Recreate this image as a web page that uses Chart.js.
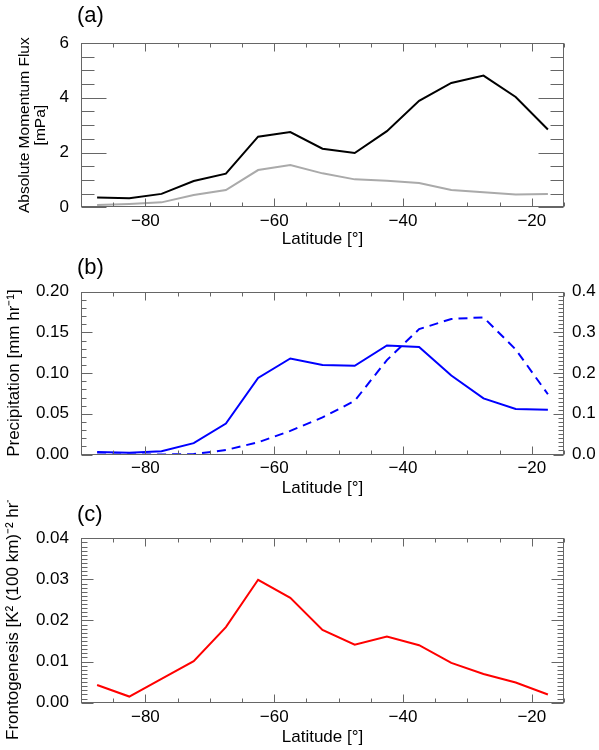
<!DOCTYPE html>
<html>
<head>
<meta charset="utf-8">
<script src="https://cdn.jsdelivr.net/npm/chart.js@4.4.1/dist/chart.umd.min.js"></script>
<style>
  html, body { margin: 0; padding: 0; background: #fff; }
  #wrap { position: relative; width: 599px; height: 750px; overflow: hidden; font-family: "Liberation Sans", Arial, sans-serif; }
  .panel { position: absolute; left: 0; width: 599px; height: 250px; overflow: hidden; }
  .panel canvas { position: absolute; left: 0; top: 0; }
  .lab { position: absolute; left: 77px; font-size: 22px; line-height: 22px; color: #000; }
  .ytitle { position: absolute; white-space: nowrap; font-size: 17px; line-height: 20px; color: #000;
            transform-origin: 0 0; transform: rotate(-90deg); }
</style>
</head>
<body>
<div id="wrap">
  <div class="panel" style="top:0"><canvas id="ca" width="599" height="250"></canvas></div>
  <div class="panel" style="top:250px"><canvas id="cb" width="599" height="250"></canvas></div>
  <div class="panel" style="top:500px"><canvas id="cc" width="599" height="250"></canvas>
    <div class="ytitle" style="left:3.3px; top:240px">Frontogenesis [K² (100 km)⁻² hr⁻¹]</div>
  </div>
  <div class="lab" style="top:3.5px">(a)</div>
  <div class="lab" style="top:255.5px">(b)</div>
  <div class="lab" style="top:502.5px">(c)</div>
</div>
<script>
// ---------------- data ----------------
const latitudes = [-87.5, -82.5, -77.5, -72.5, -67.5, -62.5, -57.5, -52.5, -47.5, -42.5, -37.5, -32.5, -27.5, -22.5, -17.5];
const fluxBlack = [0.36, 0.33, 0.49, 0.96, 1.23, 2.58, 2.75, 2.14, 1.98, 2.78, 3.89, 4.54, 4.81, 4.03, 2.84];
const fluxGrey  = [0.08, 0.12, 0.18, 0.45, 0.63, 1.36, 1.54, 1.24, 1.02, 0.97, 0.89, 0.63, 0.55, 0.47, 0.49];
const precipSolid  = [0.003, 0.002, 0.004, 0.014, 0.038, 0.094, 0.118, 0.110, 0.109, 0.134, 0.132, 0.097, 0.069, 0.056, 0.055];
const precipDashed = [0.000, 0.000, 0.000, 0.001, 0.011, 0.030, 0.058, 0.091, 0.132, 0.232, 0.308, 0.333, 0.337, 0.258, 0.148];
const frontogenesis = [0.0043, 0.0015, 0.0058, 0.0101, 0.0184, 0.0299, 0.0255, 0.0177, 0.0141, 0.0161, 0.0140, 0.0097, 0.0070, 0.0049, 0.0020];

const xTickLabels = [-80, -60, -40, -20];
const fluxTicks = [0, 2, 4, 6];
const precipTicks = [0, 0.05, 0.10, 0.15, 0.20];
const precipRightTicks = [0, 0.1, 0.2, 0.3, 0.4];
const frontoTicks = [0, 0.01, 0.02, 0.03, 0.04];

// ---------------- helpers ----------------
const FONT = "'Liberation Sans', Arial, sans-serif";
const pts = arr => latitudes.map((lat, i) => ({ x: lat, y: arr[i] }));
const minus = v => String(v).replace('-', '\u2212');

const frameTicks = {
  id: 'frameTicks',
  afterDraw(chart, args, opts) {
    const { ctx, chartArea: a, scales } = chart;
    ctx.save();
    ctx.strokeStyle = '#666';
    ctx.lineWidth = 1;
    const L = Math.round(a.left) + 0.5, R = Math.round(a.right) - 0.5;
    const T = Math.round(a.top) + 0.5, B = Math.round(a.bottom) - 0.5;
    ctx.strokeRect(L, T, R - L, B - T);
    const line = (x1, y1, x2, y2) => { ctx.beginPath(); ctx.moveTo(x1, y1); ctx.lineTo(x2, y2); ctx.stroke(); };
    const isMajor = (v, m) => Math.abs(v / m - Math.round(v / m)) < 1e-6;
    const xs = scales.x;
    const nx = Math.round((xs.max - xs.min) / opts.x.minor);
    for (let i = 0; i <= nx; i++) {
      const v = xs.min + i * opts.x.minor;
      const p = Math.round(xs.getPixelForValue(v)) + 0.5;
      const len = isMajor(v, opts.x.major) ? opts.x.majorLen : opts.x.minorLen;
      line(p, B, p, B - len);
      line(p, T, p, T + len);
    }
    for (const ys of opts.y) {
      const s = scales[ys.id];
      const n = Math.round((s.max - s.min) / ys.minor);
      for (let i = 0; i <= n; i++) {
        const v = s.min + i * ys.minor;
        const p = Math.round(s.getPixelForValue(v)) + 0.5;
        const len = isMajor(v, ys.major) ? ys.majorLen : ys.minorLen;
        if (ys.sides.includes('left')) line(L, p, L + len, p);
        if (ys.sides.includes('right')) line(R, p, R - len, p);
      }
    }
    ctx.restore();
  }
};

function xScale(height, titlePad) {
  return {
    type: 'linear', min: -90, max: -15,
    afterBuildTicks: s => { s.ticks = xTickLabels.map(v => ({ value: v })); },
    afterFit: s => { s.height = height; },
    grid: { display: false, drawTicks: false },
    border: { display: false },
    ticks: { font: { family: FONT, size: 17 }, color: '#000', padding: 4, maxRotation: 0, autoSkip: false,
             callback: v => minus(v) },
    title: { display: true, text: 'Latitude [°]', color: '#000', font: { family: FONT, size: 17 },
             padding: { top: 0, bottom: titlePad } }
  };
}

function yScale(opts) {
  return Object.assign({
    type: 'linear',
    grid: { display: false, drawTicks: false },
    border: { display: false },
  }, opts);
}

function makeChart(id, datasets, scales, padding, tickOpts) {
  return new Chart(document.getElementById(id), {
    type: 'line',
    data: { datasets },
    options: {
      responsive: false, animation: false, devicePixelRatio: 1,
      layout: { padding },
      plugins: { legend: { display: false }, tooltip: { enabled: false }, frameTicks: tickOpts },
      elements: { point: { radius: 0 }, line: { tension: 0, borderWidth: 2 } },
      scales
    },
    plugins: [frameTicks]
  });
}

const xTickOpts = { minor: 5, major: 20, minorLen: 4, majorLen: 8 };

// ---------------- panel (a) ----------------
makeChart('ca', [
  { data: pts(fluxBlack), borderColor: '#000000' },
  { data: pts(fluxGrey), borderColor: '#aaaaaa' }
], {
  x: xScale(42.7, 0),
  y: yScale({
    min: 0, max: 6,
    afterBuildTicks: s => { s.ticks = fluxTicks.map(v => ({ value: v })); },
    afterFit: s => { s.width = 81; },
    ticks: { font: { family: FONT, size: 17 }, color: '#000', padding: 12, callback: v => String(v) },
    title: { display: true, text: ['Absolute Momentum Flux', '[mPa]'], color: '#000',
             font: { family: FONT, size: 15.5, lineHeight: 1.0 }, padding: { top: 17, bottom: 0 } }
  })
}, { top: 43, right: 35, left: 0, bottom: 0 }, {
  x: xTickOpts,
  y: [{ id: 'y', minor: 0.5, major: 2, minorLen: 13, majorLen: 25, sides: ['left', 'right'] }]
});

// ---------------- panel (b) ----------------
makeChart('cb', [
  { data: pts(precipSolid), borderColor: '#0000ff', yAxisID: 'y' },
  { data: pts(precipDashed), borderColor: '#0000ff', borderDash: [9, 6], yAxisID: 'y1' }
], {
  x: xScale(45.5, 1),
  y: yScale({
    position: 'left', min: 0, max: 0.2,
    afterBuildTicks: s => { s.ticks = precipTicks.map(v => ({ value: v })); },
    afterFit: s => { s.width = 81; },
    ticks: { font: { family: FONT, size: 17 }, color: '#000', padding: 12, callback: v => v.toFixed(2) },
    title: { display: true, text: 'Precipitation [mm hr⁻¹]', color: '#000',
             font: { family: FONT, size: 17, lineHeight: 1.2 }, padding: { top: 3.8, bottom: 0 } }
  }),
  y1: yScale({
    position: 'right', min: 0, max: 0.4,
    afterBuildTicks: s => { s.ticks = precipRightTicks.map(v => ({ value: v })); },
    afterFit: s => { s.width = 35; },
    ticks: { font: { family: FONT, size: 17 }, color: '#000', padding: 8, callback: v => v.toFixed(1) }
  })
}, { top: 41.7, right: 0, left: 0, bottom: 0 }, {
  x: xTickOpts,
  y: [{ id: 'y', minor: 0.01, major: 0.05, minorLen: 5, majorLen: 11, sides: ['left'] },
      { id: 'y1', minor: 0.01, major: 0.1, minorLen: 5, majorLen: 10, sides: ['right'] }]
});

// ---------------- panel (c) ----------------
makeChart('cc', [
  { data: pts(frontogenesis), borderColor: '#ff0000' }
], {
  x: xScale(47.3, 2.3),
  y: yScale({
    min: 0, max: 0.04,
    afterBuildTicks: s => { s.ticks = frontoTicks.map(v => ({ value: v })); },
    afterFit: s => { s.width = 81; },
    ticks: { font: { family: FONT, size: 17 }, color: '#000', padding: 12, callback: v => v.toFixed(2) },
    title: { display: false }
  })
}, { top: 38.3, right: 35, left: 0, bottom: 0 }, {
  x: xTickOpts,
  y: [{ id: 'y', minor: 0.001, major: 0.01, minorLen: 6, majorLen: 12, sides: ['left', 'right'] }]
});
</script>
</body>
</html>
